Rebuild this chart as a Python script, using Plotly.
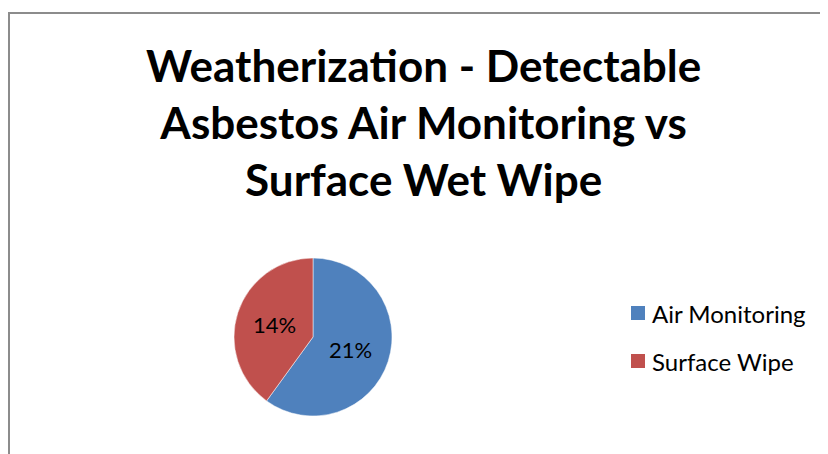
import plotly.graph_objects as go

labels = ["Air Monitoring", "Surface Wipe"]
values = [21, 14]
colors = ["#4F81BD", "#C0504D"]
title_lines = ["Weatherization - Detectable", "Asbestos Air Monitoring vs", "Surface Wet Wipe"]

W, H = 828, 454
FONT = "Lato"
OFF = 8  # page body margin compensation


def px_x(x):
    return (x - OFF) / W


def px_y(y):
    return 1 - (y - OFF) / H


fig = go.Figure()
cx, cy, r = 313, 337, 79
fig.add_trace(go.Pie(
    labels=labels, values=values,
    marker=dict(colors=colors, line=dict(color="white", width=0.5)),
    sort=False, direction="clockwise", rotation=0,
    texttemplate="%{value}%", textposition="inside",
    insidetextorientation="horizontal",
    textfont=dict(family=FONT, size=22, color="black"),
    showlegend=False, hoverinfo="label+value",
    domain=dict(x=[px_x(cx - r), px_x(cx + r)], y=[px_y(cy + r), px_y(cy - r)]),
))

annotations = [dict(
    text="<br>".join(title_lines), x=px_x(423), y=px_y(122), xref="paper", yref="paper",
    xanchor="center", yanchor="middle", showarrow=False,
    font=dict(family=FONT, size=44, color="black", weight="bold"),
)]
shapes = [dict(type="rect", xref="paper", yref="paper",
               x0=px_x(9), x1=1.05, y0=-0.05, y1=px_y(13),
               line=dict(color="#8C8C8C", width=2), fillcolor="rgba(0,0,0,0)")]
leg_y = [313, 361]
for lab, col, yy in zip(labels, colors, leg_y):
    shapes.append(dict(type="rect", xref="paper", yref="paper",
                       x0=px_x(631), x1=px_x(645), y0=px_y(yy + 7), y1=px_y(yy - 7),
                       line=dict(width=0), fillcolor=col))
    annotations.append(dict(text=lab, x=px_x(650), y=px_y(yy), xref="paper", yref="paper",
                            xanchor="left", yanchor="middle", showarrow=False,
                            font=dict(family=FONT, size=24, color="black")))

fig.update_layout(
    width=W, height=H, margin=dict(l=0, r=0, t=0, b=0),
    paper_bgcolor="white", plot_bgcolor="white",
    annotations=annotations, shapes=shapes,
)
fig.write_html("out.html")
